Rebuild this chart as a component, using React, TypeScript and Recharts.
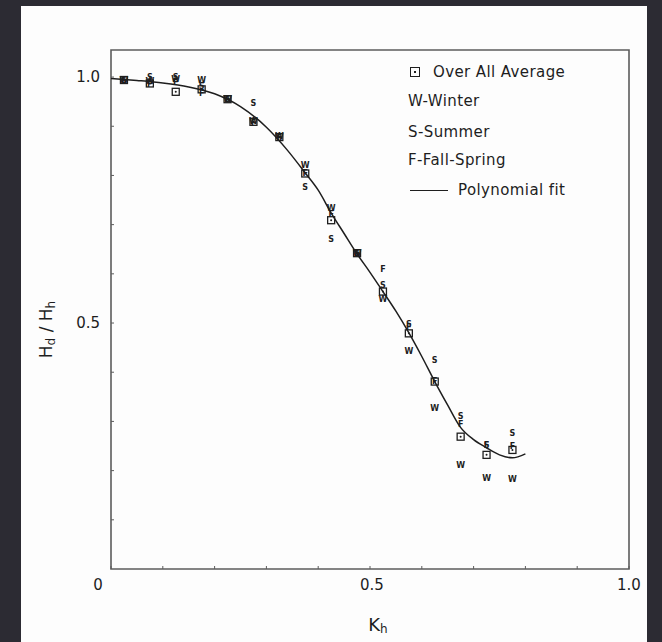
import React from 'react';
import { ComposedChart, Line, Scatter, XAxis, YAxis, ReferenceArea, Label } from 'recharts';

// Kh bin centres
const khBins = [0.025, 0.075, 0.125, 0.175, 0.225, 0.275, 0.325, 0.375, 0.425, 0.475, 0.525, 0.575, 0.625, 0.675, 0.725, 0.775];
// Hd/Hh values per series
const averageVals = [0.994, 0.987, 0.97, 0.975, 0.955, 0.909, 0.878, 0.804, 0.709, 0.642, 0.564, 0.479, 0.381, 0.269, 0.232, 0.242];
const winterVals = [0.994, 0.99, 0.995, 0.993, 0.955, 0.91, 0.88, 0.821, 0.732, 0.642, 0.548, 0.442, 0.327, 0.211, 0.184, 0.181];
const summerVals = [0.994, 0.999, 1.0, 0.98, 0.955, 0.947, 0.875, 0.776, 0.669, 0.642, 0.577, 0.496, 0.423, 0.31, 0.252, 0.276];
const fallVals = [0.994, 0.985, 0.988, 0.967, 0.955, 0.905, 0.878, 0.804, 0.72, 0.642, 0.609, 0.49, 0.381, 0.293, 0.252, 0.249];
// polynomial fit curve
const fitK = [0, 0.05, 0.1, 0.15, 0.2, 0.25, 0.3, 0.34, 0.375, 0.4, 0.426, 0.45, 0.474, 0.5, 0.523, 0.55, 0.574, 0.6, 0.625, 0.65, 0.674, 0.7, 0.724, 0.75, 0.775, 0.8];
const fitV = [0.997, 0.993, 0.988, 0.98, 0.966, 0.94, 0.898, 0.852, 0.805, 0.77, 0.722, 0.682, 0.642, 0.603, 0.567, 0.524, 0.482, 0.432, 0.381, 0.333, 0.289, 0.263, 0.247, 0.232, 0.226, 0.234];

const xTicks = [0, 0.1, 0.2, 0.3, 0.4, 0.5, 0.6, 0.7, 0.8, 0.9, 1.0];
const yTicks = [0.1, 0.2, 0.3, 0.4, 0.5, 0.6, 0.7, 0.8, 0.9, 1.0];
const xTickLabels: Record<string, string> = { '0': '0', '0.5': '0.5', '1': '1.0' };
const yTickLabels: Record<string, string> = { '0.5': '0.5', '1': '1.0' };

const legendRows = ['Over All Average', 'W-Winter', 'S-Summer', 'F-Fall-Spring', 'Polynomial fit'];

const FONT = '"DejaVu Sans", "Liberation Sans", sans-serif';
const INK = '#1e1e1e';
const FRAME = '#5c5c5c';

const toPts = (vals: number[]) => khBins.map((k, i) => ({ k, v: vals[i] }));
const fitData = fitK.map((k, i) => ({ k, v: fitV[i] }));

const XTick = (props: any) => {
  const { x, y, payload } = props;
  const key = String(payload.value);
  const lab = xTickLabels[key];
  const dx = key === '0' ? -13 : key === '1' ? 0 : 2;
  return (
    <g>
      <line x1={x} y1={y} x2={x} y2={y - 3} stroke={FRAME} strokeWidth={1} />
      {lab && (
        <text x={x + dx} y={y + 16} textAnchor="middle" dominantBaseline="central" fontFamily={FONT} fontSize={15} fill={INK}>
          {lab}
        </text>
      )}
    </g>
  );
};

const YTick = (props: any) => {
  const { x, y, payload } = props;
  const lab = yTickLabels[String(payload.value)];
  return (
    <g>
      <line x1={x} y1={y} x2={x + 3} y2={y} stroke={FRAME} strokeWidth={1} />
      {lab && (
        <text x={x - 11} y={y} textAnchor="end" dominantBaseline="central" fontFamily={FONT} fontSize={15} fill={INK}>
          {lab}
        </text>
      )}
    </g>
  );
};

const squareShape = (p: any) => (
  <g>
    <rect x={p.cx - 3.5} y={p.cy - 3.5} width={7} height={7} fill="none" stroke={INK} strokeWidth={1.3} />
    <circle cx={p.cx} cy={p.cy} r={1} fill={INK} />
  </g>
);

const letterShape = (ch: string) => (p: any) => (
  <text x={p.cx} y={p.cy} textAnchor="middle" dominantBaseline="central" fontFamily={FONT} fontWeight="bold" fontSize={8} fill={INK}>
    {ch}
  </text>
);

export default function App() {
  return (
    <div style={{ position: 'fixed', left: 0, top: 0, width: 662, height: 642, background: '#2c2b33', overflow: 'hidden' }}>
      <div style={{ position: 'absolute', left: 21, top: 6, width: 626, height: 636, background: '#fdfdfd' }} />
      <div style={{ position: 'absolute', left: 0, top: 0 }}>
        <ComposedChart width={662} height={642} margin={{ top: 50, right: 33, bottom: 13, left: 41 }}>
          <XAxis
            type="number"
            dataKey="k"
            domain={[0, 1]}
            ticks={xTicks}
            interval={0}
            height={60}
            axisLine={false}
            tickLine={false}
            tickSize={0}
            tickMargin={0}
            tick={<XTick />}
            allowDataOverflow
          >
            <Label
              content={(p: any) => {
                const vb = p.viewBox || { x: 111, y: 569, width: 518 };
                const cx = vb.x + vb.width / 2 + 8;
                const cy = vb.y + 55;
                return (
                  <text x={cx} y={cy} textAnchor="middle" dominantBaseline="central" fontFamily={FONT} fontSize={18} fill={INK}>
                    K<tspan dy={5} fontSize={12}>h</tspan>
                  </text>
                );
              }}
            />
          </XAxis>
          <YAxis
            type="number"
            dataKey="v"
            domain={[0, 1.055]}
            ticks={yTicks}
            interval={0}
            width={70}
            axisLine={false}
            tickLine={false}
            tickSize={0}
            tickMargin={0}
            tick={<YTick />}
            allowDataOverflow
          >
            <Label
              content={(p: any) => {
                const vb = p.viewBox || { x: 41, y: 50, width: 70, height: 519 };
                const cx = vb.x + vb.width - 65;
                const cy = vb.y + vb.height / 2 + 20;
                return (
                  <text
                    x={cx}
                    y={cy}
                    transform={`rotate(-90, ${cx}, ${cy})`}
                    textAnchor="middle"
                    dominantBaseline="central"
                    fontFamily={FONT}
                    fontSize={17}
                    fill={INK}
                  >
                    H<tspan dy={5} fontSize={12}>d</tspan>
                    <tspan dy={-5}> / H</tspan>
                    <tspan dy={5} fontSize={12}>h</tspan>
                  </text>
                );
              }}
            />
          </YAxis>
          <ReferenceArea x1={0} x2={1} y1={0} y2={1.055} fill="none" stroke={FRAME} strokeWidth={1.6} ifOverflow="visible" />
          <Line data={fitData} dataKey="v" type="monotone" stroke={INK} strokeWidth={1.5} dot={false} activeDot={false} isAnimationActive={false} />
          <Scatter name="Over All Average" data={toPts(averageVals)} shape={squareShape} isAnimationActive={false} />
          <Scatter name="W-Winter" data={toPts(winterVals)} shape={letterShape('W')} isAnimationActive={false} />
          <Scatter name="S-Summer" data={toPts(summerVals)} shape={letterShape('S')} isAnimationActive={false} />
          <Scatter name="F-Fall-Spring" data={toPts(fallVals)} shape={letterShape('F')} isAnimationActive={false} />
        </ComposedChart>
      </div>
      {/* legend */}
      <div style={{ position: 'absolute', left: 408, top: 62, fontFamily: FONT, fontSize: 15, letterSpacing: 0.4, color: INK, lineHeight: '20px' }}>
        <div style={{ position: 'absolute', top: 0, left: 0, whiteSpace: 'nowrap', display: 'flex', alignItems: 'center' }}>
          <span style={{ display: 'inline-block', width: 10, height: 10, border: `1.5px solid ${INK}`, boxSizing: 'border-box', position: 'relative', marginLeft: 2, marginRight: 13 }}>
            <span style={{ position: 'absolute', left: 2.5, top: 2.5, width: 2, height: 2, background: INK }} />
          </span>
          {legendRows[0]}
        </div>
        <div style={{ position: 'absolute', top: 29, left: 0, whiteSpace: 'nowrap' }}>{legendRows[1]}</div>
        <div style={{ position: 'absolute', top: 60, left: 0, whiteSpace: 'nowrap' }}>{legendRows[2]}</div>
        <div style={{ position: 'absolute', top: 88, left: 0, whiteSpace: 'nowrap' }}>{legendRows[3]}</div>
        <div style={{ position: 'absolute', top: 118, left: 0, whiteSpace: 'nowrap', display: 'flex', alignItems: 'center' }}>
          <span style={{ display: 'inline-block', width: 38, height: 0, borderTop: `1.5px solid ${INK}`, marginLeft: 2, marginRight: 10 }} />
          {legendRows[4]}
        </div>
      </div>
    </div>
  );
}
